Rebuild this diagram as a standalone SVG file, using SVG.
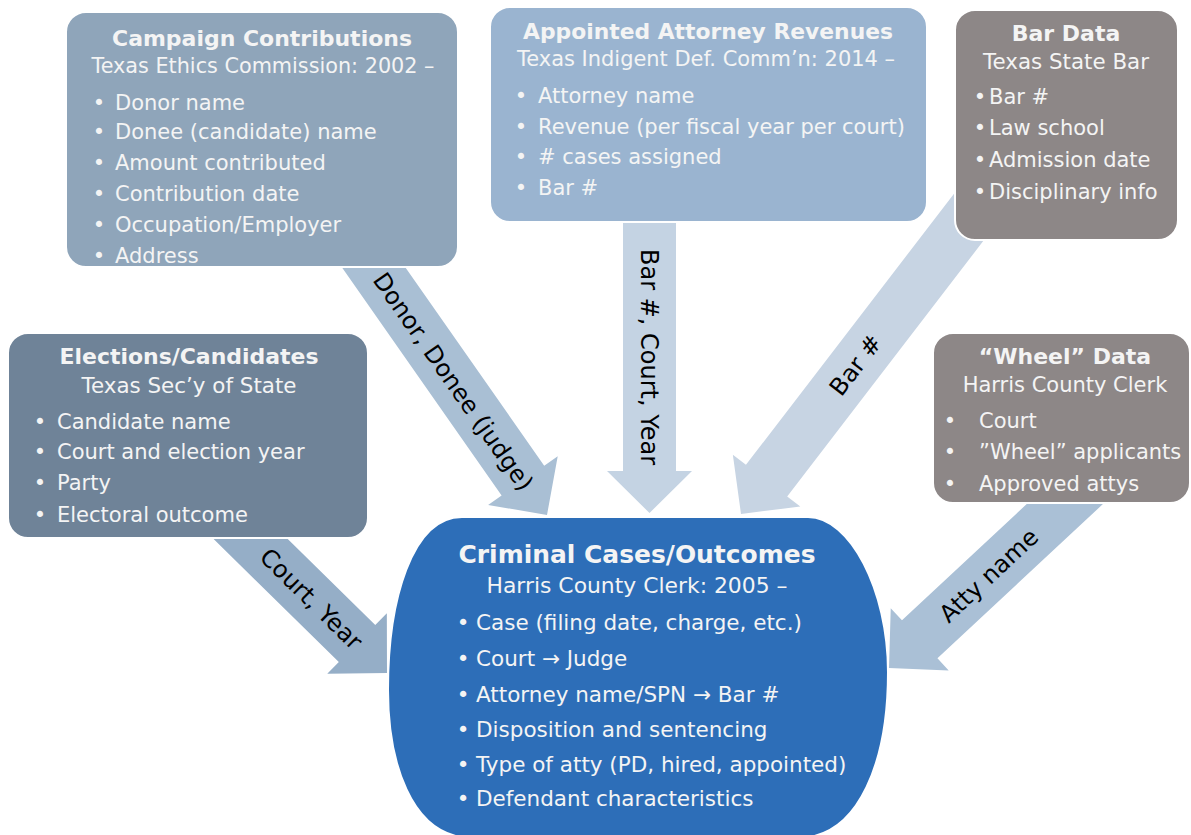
<svg xmlns="http://www.w3.org/2000/svg" width="1191" height="835" viewBox="0 0 1191 835">
<style>
.t{font-family:"DejaVu Sans","Liberation Sans",sans-serif;fill:#f4f4f4}
.h{font-weight:bold;font-size:22px;text-anchor:middle}
.s{font-size:21px;text-anchor:middle}
.b{font-size:21px}
.m{text-anchor:middle}
.box{stroke:#ffffff;stroke-width:2}
.lbl{font-family:"DejaVu Sans","Liberation Sans",sans-serif;font-size:24px;fill:#000000;text-anchor:middle}
</style>
<rect width="1191" height="835" fill="#ffffff"/>
<g id="connectors">
  <g transform="translate(547,515) rotate(55)">
    <polygon points="0,0 -42,-42.5 -42,-26 -330,-26 -330,26 -42,26 -42,42.5" fill="#a9bfd4"/>
    <text class="lbl" x="-163" y="0" dy="0.36em">Donor, Donee (judge)</text>
  </g>
  <g transform="translate(649.5,513) rotate(90)">
    <polygon points="0,0 -42,-42.5 -42,-26.5 -298,-26.5 -298,26.5 -42,26.5 -42,42.5" fill="#c4d3e3"/>
    <text class="lbl" x="-156" y="0" dy="0.36em">Bar #, Court, Year</text>
  </g>
  <g transform="translate(741,514) rotate(127.5)">
    <polygon points="0,0 -42,-42.5 -42,-26 -420,-26 -420,26 -42,26 -42,42.5" fill="#c7d4e3"/>
    <text class="lbl" transform="translate(-188,0) rotate(180)" x="0" y="0" dy="0.36em">Bar #</text>
  </g>
  <g transform="translate(387,673) rotate(44.5)">
    <polygon points="0,0 -42,-42.5 -42,-26 -230,-26 -230,26 -42,26 -42,42.5" fill="#95aec7"/>
    <text class="lbl" x="-106" y="0" dy="0.36em">Court, Year</text>
  </g>
  <g transform="translate(889,668) rotate(137)">
    <polygon points="0,0 -42,-42.5 -42,-26 -280,-26 -280,26 -42,26 -42,42.5" fill="#aac0d6"/>
    <text class="lbl" transform="translate(-136,0) rotate(180)" x="0" y="0" dy="0.36em">Atty name</text>
  </g>
</g>
<g id="campaign">
  <rect class="box" x="66" y="12" width="392" height="255" rx="20" fill="#8fa5ba"/>
  <text class="t h" x="262" y="46" textLength="300" lengthAdjust="spacingAndGlyphs">Campaign Contributions</text>
  <text class="t s" x="263" y="73" textLength="343" lengthAdjust="spacingAndGlyphs">Texas Ethics Commission: 2002 –</text>
  <text class="t b m" x="99" y="110">•</text><text class="t b" x="115" y="110">Donor name</text>
  <text class="t b m" x="99" y="139">•</text><text class="t b" x="115" y="139">Donee (candidate) name</text>
  <text class="t b m" x="99" y="170">•</text><text class="t b" x="115" y="170">Amount contributed</text>
  <text class="t b m" x="99" y="201">•</text><text class="t b" x="115" y="201">Contribution date</text>
  <text class="t b m" x="99" y="232">•</text><text class="t b" x="115" y="232">Occupation/Employer</text>
  <text class="t b m" x="99" y="263">•</text><text class="t b" x="115" y="263">Address</text>
</g>
<g id="appointed">
  <rect class="box" x="490" y="7" width="437" height="215" rx="20" fill="#9ab4d0"/>
  <text class="t h" x="708" y="39" textLength="370" lengthAdjust="spacingAndGlyphs">Appointed Attorney Revenues</text>
  <text class="t s" x="706" y="66" textLength="378" lengthAdjust="spacingAndGlyphs">Texas Indigent Def. Comm’n: 2014 –</text>
  <text class="t b m" x="521" y="103">•</text><text class="t b" x="538" y="103">Attorney name</text>
  <text class="t b m" x="521" y="134">•</text><text class="t b" x="538" y="134">Revenue (per fiscal year per court)</text>
  <text class="t b m" x="521" y="164">•</text><text class="t b" x="538" y="164"># cases assigned</text>
  <text class="t b m" x="521" y="195">•</text><text class="t b" x="538" y="195">Bar #</text>
</g>
<g id="bardata">
  <rect class="box" x="955" y="10" width="223" height="230" rx="20" fill="#8d8787"/>
  <text class="t h" x="1066" y="41">Bar Data</text>
  <text class="t s" x="1066" y="69" textLength="166" lengthAdjust="spacingAndGlyphs">Texas State Bar</text>
  <text class="t b m" x="980" y="104">•</text><text class="t b" x="989" y="104">Bar #</text>
  <text class="t b m" x="980" y="135">•</text><text class="t b" x="989" y="135">Law school</text>
  <text class="t b m" x="980" y="167">•</text><text class="t b" x="989" y="167">Admission date</text>
  <text class="t b m" x="980" y="199">•</text><text class="t b" x="989" y="199">Disciplinary info</text>
</g>
<g id="elections">
  <rect class="box" x="8" y="333" width="360" height="205" rx="20" fill="#6f8398"/>
  <text class="t h" x="189" y="364" textLength="259" lengthAdjust="spacingAndGlyphs">Elections/Candidates</text>
  <text class="t s" x="189" y="393" textLength="215" lengthAdjust="spacingAndGlyphs">Texas Sec’y of State</text>
  <text class="t b m" x="40" y="429">•</text><text class="t b" x="57" y="429">Candidate name</text>
  <text class="t b m" x="40" y="459">•</text><text class="t b" x="57" y="459">Court and election year</text>
  <text class="t b m" x="40" y="490">•</text><text class="t b" x="57" y="490">Party</text>
  <text class="t b m" x="40" y="522">•</text><text class="t b" x="57" y="522">Electoral outcome</text>
</g>
<g id="wheel">
  <rect class="box" x="933" y="333" width="257" height="170" rx="20" fill="#8d8787"/>
  <text class="t h" x="1065" y="364">“Wheel” Data</text>
  <text class="t s" x="1065" y="392">Harris County Clerk</text>
  <text class="t b m" x="950" y="428">•</text><text class="t b" x="979" y="428">Court</text>
  <text class="t b m" x="950" y="459">•</text><text class="t b" x="979" y="459">”Wheel” applicants</text>
  <text class="t b m" x="950" y="491">•</text><text class="t b" x="979" y="491">Approved attys</text>
</g>
<g id="criminal">
  <path d="M462 517 H808 C850 517 888 590 888 672 C888 760 860 836 800 838 H470 C410 836 388 760 388 690 C388 600 412 517 462 517 Z" fill="#2d6eb8" stroke="#ffffff" stroke-width="2"/>
  <text class="t h" x="637" y="563" style="font-size:25px" textLength="357" lengthAdjust="spacingAndGlyphs">Criminal Cases/Outcomes</text>
  <text class="t s" x="637" y="593" style="font-size:22px" textLength="301" lengthAdjust="spacingAndGlyphs">Harris County Clerk: 2005 –</text>
  <g style="font-size:21.5px">
  <text class="t m" x="463" y="630">•</text><text class="t" x="476" y="630">Case (filing date, charge, etc.)</text>
  <text class="t m" x="463" y="666">•</text><text class="t" x="476" y="666">Court → Judge</text>
  <text class="t m" x="463" y="702">•</text><text class="t" x="476" y="702">Attorney name/SPN → Bar #</text>
  <text class="t m" x="463" y="737">•</text><text class="t" x="476" y="737">Disposition and sentencing</text>
  <text class="t m" x="463" y="772">•</text><text class="t" x="476" y="772">Type of atty (PD, hired, appointed)</text>
  <text class="t m" x="463" y="806">•</text><text class="t" x="476" y="806">Defendant characteristics</text>
  </g>
</g>
</svg>
